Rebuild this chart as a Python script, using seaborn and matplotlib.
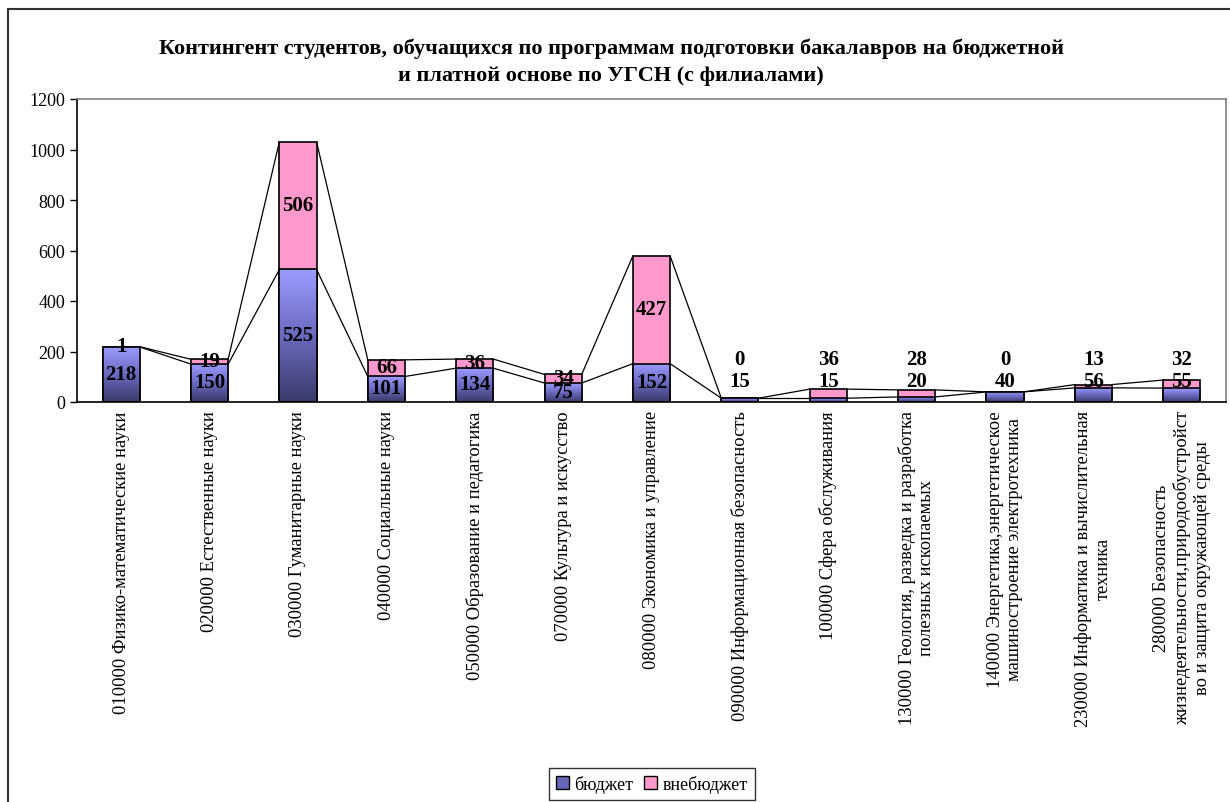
import numpy as np
import pandas as pd
import matplotlib
matplotlib.use("Agg")
import matplotlib.pyplot as plt
import seaborn as sns
from matplotlib.colors import LinearSegmentedColormap
from matplotlib.patches import Rectangle, Patch

# -------------------------
# Data
# -------------------------
categories = [
    "010000 Физико-математические науки",
    "020000 Естественные науки",
    "030000 Гуманитарные науки",
    "040000 Социальные науки",
    "050000 Образование и педагогика",
    "070000 Культура и искусство",
    "080000 Экономика и управление",
    "090000 Информационная безопасность",
    "100000 Сфера обслуживания",
    "130000 Геология, разведка и разработка\nполезных ископаемых",
    "140000 Энергетика,энергетическое\nмашиностроение электротехника",
    "230000 Информатика и вычислительная\nтехника",
    "280000 Безопасность\nжизнедеятельности,природообустройст\nво и защита окружающей среды",
]
budget = [218, 150, 525, 101, 134, 75, 152, 15, 15, 20, 40, 56, 55]
paid = [1, 19, 506, 66, 36, 34, 427, 0, 36, 28, 0, 13, 32]

title = ("Контингент студентов, обучащихся по программам подготовки бакалавров на бюджетной\n"
         "и платной основе по УГСН (с филиалами)")

df = pd.DataFrame({"cat": categories, "budget": budget, "paid": paid})
df["total"] = df["budget"] + df["paid"]

# -------------------------
# Style
# -------------------------
sns.set_style("white")
plt.rcParams["font.family"] = ["Liberation Serif", "DejaVu Serif"]
plt.rcParams["text.color"] = "black"
plt.rcParams["xtick.color"] = "black"
plt.rcParams["ytick.color"] = "black"

pink = "#FF99CC"
blue_cmap = LinearSegmentedColormap.from_list("bl", ["#3A3A68", "#6A6AC0", "#9C9CFF"])

fig = plt.figure(figsize=(12.3, 8.03), dpi=100)
ax = fig.add_axes([77 / 1230, 1 - 403 / 803, (1226 - 77) / 1230, (403 - 100) / 803])

bw = 0.42
sns.barplot(data=df, x="cat", y="total", color=pink, saturation=1, width=bw,
            edgecolor="black", linewidth=1.2, ax=ax, zorder=1)
sns.barplot(data=df, x="cat", y="budget", color="#7777cc", saturation=1, width=bw,
            edgecolor="black", linewidth=1.2, ax=ax, zorder=3)

# gradient fill for budget bars
grad = np.linspace(0, 1, 256).reshape(-1, 1)
for p in ax.containers[1].patches:
    x, y = p.get_x(), p.get_y()
    w, h = p.get_width(), p.get_height()
    if h <= 0:
        continue
    im = ax.imshow(grad, extent=[x, x + w, y, y + h], origin="lower",
                   cmap=blue_cmap, aspect="auto", zorder=2)
    im.set_clip_path(p)
    p.set_facecolor("none")

n = len(categories)
ax.set_xlim(-0.5, n - 0.5)
ax.set_ylim(0, 1200)

# series lines between bars
xs = np.arange(n)
for level in [df["budget"].values, df["total"].values]:
    for i in range(n - 1):
        ax.plot([xs[i] + bw / 2, xs[i + 1] - bw / 2], [level[i], level[i + 1]],
                color="black", lw=0.9, zorder=4)

# value labels
for i in range(n):
    b, pv = budget[i], paid[i]
    if b + pv < 100:
        yb, yp = 85, 172
    else:
        yb, yp = b / 2 + 3, b + pv / 2 + 4
    ax.text(i, yb, str(b), ha="center", va="center", fontsize=15,
            fontweight="bold", zorder=5)
    if pv > 0 or b + pv < 100:
        ax.text(i, yp, str(pv), ha="center", va="center", fontsize=15,
                fontweight="bold", zorder=5)

# axes / ticks
ax.set_yticks(range(0, 1201, 200))
ax.set_xticks(xs)
ax.set_xticklabels(categories, rotation=90, ha="center", va="top",
                   multialignment="center", fontsize=13.3)
ax.set_xticks(np.arange(n + 1) - 0.5, minor=True)
ax.tick_params(axis="x", which="major", length=0, pad=6)
ax.tick_params(axis="x", which="minor", length=5, width=1, direction="out", color="black")
ax.tick_params(axis="y", length=5, width=1, direction="out", color="black",
               labelsize=13, left=True)
ax.set_xlabel("")
ax.set_ylabel("")
for s in ["top", "right"]:
    ax.spines[s].set_color("#808080")
    ax.spines[s].set_linewidth(1.2)
for s in ["left", "bottom"]:
    ax.spines[s].set_color("black")
    ax.spines[s].set_linewidth(1.2)

# title
fig.text(0.497, 1 - 62 / 803, title, ha="center", va="center", fontsize=16,
         fontweight="bold", linespacing=1.45)

# legend
handles = [Patch(facecolor="#6666b8", edgecolor="black", label="бюджет"),
           Patch(facecolor=pink, edgecolor="black", label="внебюджет")]
leg = fig.legend(handles=handles, loc="center", bbox_to_anchor=(652 / 1230, 1 - 785 / 803),
                 ncol=2, fontsize=13, frameon=True, fancybox=False, handlelength=0.7,
                 handleheight=0.7, handletextpad=0.3, columnspacing=0.6, borderpad=0.4)
leg.get_frame().set_edgecolor("black")
leg.get_frame().set_linewidth(1.0)

# outer chart border
fig.patches.append(Rectangle((8 / 1230, -0.05), 1.1, 1 - 10 / 803 + 0.05,
                             transform=fig.transFigure, fill=False,
                             edgecolor="#333333", lw=1.5))

fig.savefig("out.png", dpi=100)
